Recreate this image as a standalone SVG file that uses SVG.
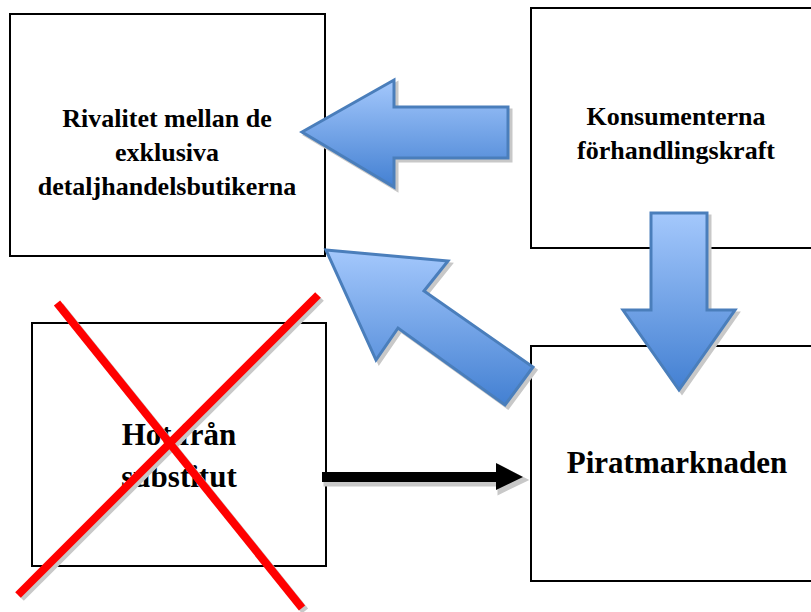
<svg xmlns="http://www.w3.org/2000/svg" width="811" height="612" viewBox="0 0 811 612">
<defs>
<linearGradient id="blue" x1="0" y1="0" x2="0" y2="1">
<stop offset="0" stop-color="#A4C8FC"/>
<stop offset="1" stop-color="#4380D2"/>
</linearGradient>
<style>
.box{fill:#fff;stroke:#000;stroke-width:2}
.lbl{font-family:"Liberation Serif","Times New Roman",serif;font-weight:bold;fill:#000;text-anchor:middle}
.s{font-size:26px}
.l{font-size:31px}
.arrow{fill:url(#blue);stroke:#4A7EBB;stroke-width:3;stroke-linejoin:miter}
.shadow{fill:#C8C8C8;stroke:#C8C8C8;stroke-width:3}
.xline{stroke:#FF0000;stroke-width:8}
.xshadow{stroke:#C8C8C8;stroke-width:8}
</style>
</defs>
<rect width="811" height="612" fill="#fff"/>
<g id="rivalitet">
<rect class="box" x="10" y="14" width="315" height="242"/>
<text class="lbl s" x="167" y="127">Rivalitet mellan de</text>
<text class="lbl s" x="167" y="161">exklusiva</text>
<text class="lbl s" x="167" y="195">detaljhandelsbutikerna</text>
</g>
<g id="konsumenterna">
<rect class="box" x="531" y="8" width="300" height="240"/>
<text class="lbl s" x="676" y="125">Konsumenterna</text>
<text class="lbl s" x="676" y="159">förhandlingskraft</text>
</g>
<g id="hot">
<rect class="box" x="32" y="323" width="294" height="243"/>
<text class="lbl l" x="179" y="445">Hot från</text>
<text class="lbl l" x="179" y="487">substitut</text>
</g>
<g id="piratmarknaden">
<rect class="box" x="531" y="346" width="300" height="235"/>
<text class="lbl l" x="677" y="473">Piratmarknaden</text>
</g>
<g id="connectors">
<g transform="translate(3,3)">
<polygon class="shadow" points="302,132 394,80 394,107 508,107 508,158 394,158 394,187"/>
<polygon class="shadow" points="651,213 707,213 707,310 735,310 679,390 623,310 651,310"/>
<polygon class="shadow" points="326,250 448,261 424,291 533,367 505,405 398,328 376,360"/>
<polygon class="shadow" points="322,472 496,472 496,463 523,477 496,490 496,482 322,482"/>
</g>
<polygon class="arrow" points="302,132 394,80 394,107 508,107 508,158 394,158 394,187"/>
<polygon class="arrow" points="651,213 707,213 707,310 735,310 679,390 623,310 651,310"/>
<polygon class="arrow" points="326,250 448,261 424,291 533,367 505,405 398,328 376,360"/>
<polygon points="322,472 496,472 496,463 523,477 496,490 496,482 322,482" fill="#000"/>
</g>
<g id="cross">
<line class="xshadow" x1="60" y1="306" x2="305" y2="611"/>
<line class="xshadow" x1="321" y1="298" x2="21" y2="598"/>
<line class="xline" x1="57" y1="303" x2="302" y2="608"/>
<line class="xline" x1="318" y1="295" x2="18" y2="595"/>
</g>
</svg>
